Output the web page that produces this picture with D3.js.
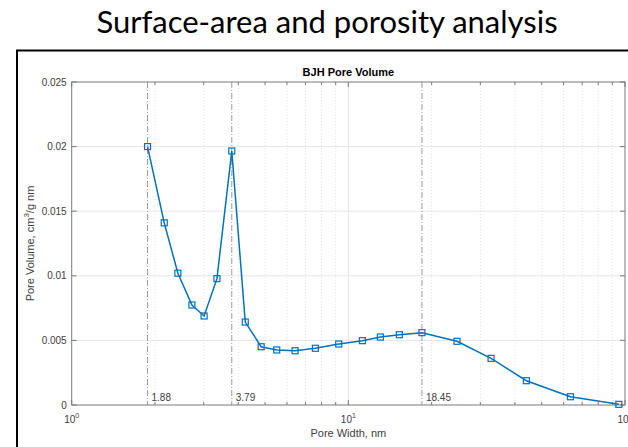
<!DOCTYPE html>
<html>
<head>
<meta charset="utf-8">
<script src="https://cdn.jsdelivr.net/npm/d3@7"></script>
<style>
  html, body { margin: 0; padding: 0; background: #fff; }
  svg { display: block; }
</style>
</head>
<body>
<svg id="chart" width="628" height="447"></svg>
<script>
// ---- data ----
const poreWidth = [1.88, 2.16, 2.42, 2.72, 3.01, 3.35, 3.79, 4.24, 4.84, 5.51, 6.42, 7.60, 9.23, 11.24, 13.05, 15.29, 18.45, 24.7, 32.8, 44.0, 63.5, 95.0];
const poreVolume = [0.0200, 0.0141, 0.0102, 0.00774, 0.00689, 0.00978, 0.01966, 0.00642, 0.00451, 0.00426, 0.00420, 0.00439, 0.00472, 0.00498, 0.00526, 0.00544, 0.00560, 0.00493, 0.00361, 0.00188, 0.00064, 0.00005];
const refLines = [1.88, 3.79, 18.45];
const refLabels = ["1.88", "3.79", "18.45"];
const yTicks = [0, 0.005, 0.01, 0.015, 0.02, 0.025];
const yTickLabels = ["0", "0.005", "0.01", "0.015", "0.02", "0.025"];
const xMajor = [1, 10, 100];
const xMajorExp = ["0", "1", "2"];
const xMinor = [2, 3, 4, 5, 6, 7, 8, 9, 20, 30, 40, 50, 60, 70, 80, 90];

const svg = d3.select("#chart");
const L = 71.7, R = 625, T = 82, B = 405;
const x = d3.scaleLog().domain([1, 100]).range([L, R]);
const y = d3.scaleLinear().domain([0, 0.025]).range([B, T]);

// slide title
svg.append("text").attr("x", 327).attr("y", 33).attr("text-anchor", "middle")
  .attr("font-family", "Lato, 'Open Sans', sans-serif").attr("font-size", 31).attr("fill", "#000")
  .text("Surface-area and porosity analysis");

// outer frame
svg.append("rect").attr("x", 17).attr("y", 50.5).attr("width", 640).attr("height", 420)
  .attr("fill", "none").attr("stroke", "#000").attr("stroke-width", 2);

const font = "'Liberation Sans', Arial, sans-serif";
const tcol = "#404040";
const axcol = "#7a7a7a";

// grid
const g = svg.append("g");
g.selectAll(".hg").data(yTicks.slice(1, -1)).join("line")
  .attr("x1", L).attr("x2", R).attr("y1", d => y(d)).attr("y2", d => y(d))
  .attr("stroke", "#e6e6e6").attr("stroke-width", 1);
g.selectAll(".vminor").data(xMinor).join("line")
  .attr("x1", d => x(d)).attr("x2", d => x(d)).attr("y1", T).attr("y2", B)
  .attr("stroke", "#d8d8d8").attr("stroke-width", 0.8).attr("stroke-dasharray", "1,2");
g.selectAll(".vmajor").data([10]).join("line")
  .attr("x1", d => x(d)).attr("x2", d => x(d)).attr("y1", T).attr("y2", B)
  .attr("stroke", "#e6e6e6").attr("stroke-width", 1);

// reference lines
g.selectAll(".ref").data(refLines).join("line")
  .attr("x1", d => x(d)).attr("x2", d => x(d)).attr("y1", T).attr("y2", B)
  .attr("stroke", "#9a9a9a").attr("stroke-width", 1).attr("stroke-dasharray", "6,2,1,2");
g.selectAll(".reflab").data(refLines).join("text")
  .attr("x", d => x(d) + 4).attr("y", B - 4)
  .attr("font-family", font).attr("font-size", 10).attr("fill", tcol)
  .text((d, i) => refLabels[i]);

// axes box
svg.append("rect").attr("x", L).attr("y", T).attr("width", R - L).attr("height", B - T)
  .attr("fill", "none").attr("stroke", axcol).attr("stroke-width", 1);

// ticks (inward)
const tk = svg.append("g").attr("stroke", axcol).attr("stroke-width", 1);
xMajor.forEach(v => {
  tk.append("line").attr("x1", x(v)).attr("x2", x(v)).attr("y1", B).attr("y2", B - 5);
  tk.append("line").attr("x1", x(v)).attr("x2", x(v)).attr("y1", T).attr("y2", T + 5);
});
xMinor.forEach(v => {
  tk.append("line").attr("x1", x(v)).attr("x2", x(v)).attr("y1", B).attr("y2", B - 3);
  tk.append("line").attr("x1", x(v)).attr("x2", x(v)).attr("y1", T).attr("y2", T + 3);
});
yTicks.forEach(v => {
  tk.append("line").attr("x1", L).attr("x2", L + 5).attr("y1", y(v)).attr("y2", y(v));
  tk.append("line").attr("x1", R).attr("x2", R - 5).attr("y1", y(v)).attr("y2", y(v));
});

// y tick labels
svg.selectAll(".ylab").data(yTicks).join("text")
  .attr("x", L - 5).attr("y", d => y(d) + 3.5).attr("text-anchor", "end")
  .attr("font-family", font).attr("font-size", 10).attr("fill", tcol)
  .text((d, i) => yTickLabels[i]);

// x tick labels (10^n)
xMajor.forEach((v, i) => {
  const t = svg.append("text").attr("x", x(v)).attr("y", 423).attr("text-anchor", "middle")
    .attr("font-family", font).attr("font-size", 10).attr("fill", tcol);
  t.append("tspan").text("10");
  t.append("tspan").attr("dy", -5).attr("font-size", 7).text(xMajorExp[i]);
});

// axis labels
svg.append("text").attr("x", (L + R) / 2).attr("y", 437).attr("text-anchor", "middle")
  .attr("font-family", font).attr("font-size", 11).attr("fill", tcol).text("Pore Width, nm");
const yl = svg.append("text").attr("transform", `translate(34,${(T + B) / 2}) rotate(-90)`)
  .attr("text-anchor", "middle").attr("font-family", font).attr("font-size", 11).attr("fill", tcol);
yl.append("tspan").text("Pore Volume, cm");
yl.append("tspan").attr("dy", -5).attr("font-size", 8).text("3");
yl.append("tspan").attr("dy", 5).text("/g nm");

// chart title
svg.append("text").attr("x", (L + R) / 2).attr("y", 76).attr("text-anchor", "middle")
  .attr("font-family", font).attr("font-size", 11).attr("font-weight", "bold").attr("fill", "#000")
  .text("BJH Pore Volume");

// series
const data = poreWidth.map((w, i) => ({ w, v: poreVolume[i] }));
svg.append("path").datum(data)
  .attr("d", d3.line().x(d => x(d.w)).y(d => y(d.v)))
  .attr("fill", "none").attr("stroke", "#0072BD").attr("stroke-width", 1.5);
svg.selectAll(".mk").data(data).join("rect")
  .attr("x", d => x(d.w) - 3).attr("y", d => y(d.v) - 3).attr("width", 6).attr("height", 6)
  .attr("fill", "none").attr("stroke", "#0072BD").attr("stroke-width", 1.2);
</script>
</body>
</html>
